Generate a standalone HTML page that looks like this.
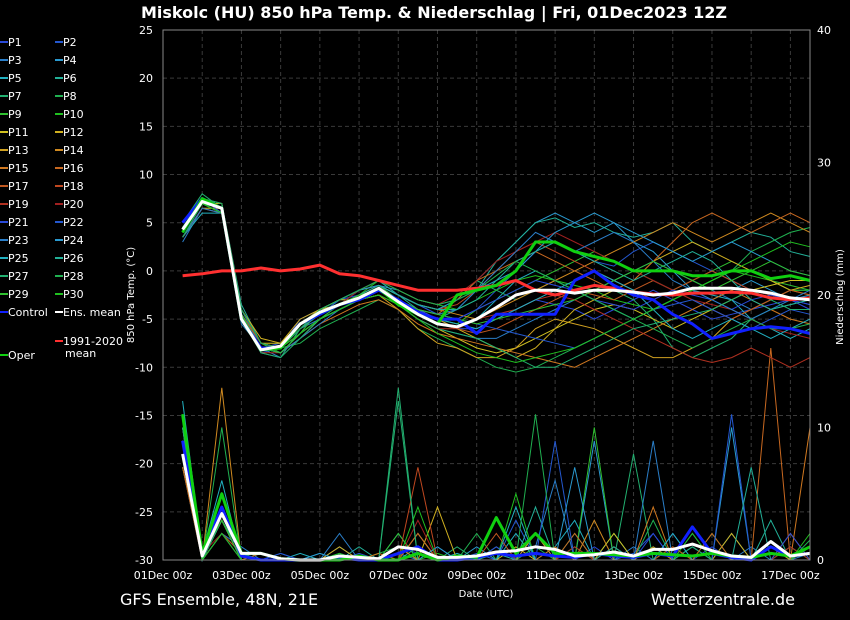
<!DOCTYPE html>
<html><head><meta charset="utf-8">
<style>
html,body{margin:0;padding:0;background:#000;}
svg{display:block;font-family:"DejaVu Sans","Liberation Sans",sans-serif;}
</style></head>
<body>
<svg id="chart" width="850" height="620" viewBox="0 0 850 620">
<rect x="0" y="0" width="850" height="620" fill="#000"/>
<text x="434" y="18" fill="#fff" font-size="16" font-weight="bold" text-anchor="middle">Miskolc  (HU)  850 hPa Temp. &amp; Niederschlag | Fri, 01Dec2023 12Z</text>
<text x="120" y="605" fill="#fff" font-size="16">GFS Ensemble, 48N, 21E</text>
<text x="795" y="605" fill="#fff" font-size="16" text-anchor="end">Wetterzentrale.de</text>
<g id="grid"></g>
<g id="precip"></g>
<g id="temps"></g>
<g id="specials"></g>
<g id="axes"></g>
<g id="legend"></g>
</svg>
<script>
const days = [0.5,1,1.5,2,2.5,3,3.5,4,4.5,5,5.5,6,6.5,7,7.5,8,8.5,9,9.5,10,10.5,11,11.5,12,12.5,13,13.5,14,14.5,15,15.5,16,16.5];
const xTickLabels = ["01Dec 00z","03Dec 00z","05Dec 00z","07Dec 00z","09Dec 00z","11Dec 00z","13Dec 00z","15Dec 00z","17Dec 00z"];
const yTicks = [25,20,15,10,5,0,-5,-10,-15,-20,-25,-30];
const y2Ticks = [0,10,20,30,40];
const memberColors = ["#2a4ad8","#2458d0","#2a7ec8","#2a9ad0","#22b0c0","#22b098","#22b070","#20b050","#30c030","#20c020","#d0c020","#d0b020","#d0a020","#d08a20","#d07820","#c86820","#c05820","#c04820","#b03020","#a02020"];
const memberTemps = [
[5,7.5,6,-5,-8.5,-8,-5,-4,-3,-2.5,-1.5,-3,-4,-5,-6,-6,-5,-4,-3,-3.5,-4,-5,-4,-3,-2,-3,-4,-5,-4.5,-4,-3.5,-3,-4],
[4,7,7,-4,-8,-7.5,-5.5,-4,-3.5,-2,-1,-2.5,-3.5,-4.5,-5,-4,-2,0,2,3,2,1,0.5,2,3,2,1,0,-1,-2,-2.5,-3,-3.5],
[3,6.5,6,-5.5,-8,-9,-6,-5,-4,-3,-2,-3.5,-5,-6,-6.5,-7,-7,-6,-5,-4,-3,-2,-1,0,1,0,-1,-2,-3,-4,-3,-2,-2],
[4.5,7,6.5,-4,-7.5,-8,-6.5,-5,-3.5,-2,-1.5,-2,-3,-3.5,-3,-1,1,3,5,6,5,4,5,3,2,0,-2,-3,-2,-1,-2,-3,-2.5],
[3.5,6,6,-5,-8,-8.5,-7,-5,-4,-3,-2,-3,-4.5,-5.5,-6,-5,-3,-1,0,-1,-2,-3,-4,-5,-4,-3,-2,-2.5,-3,-5,-6,-7,-6],
[4,7.5,7,-3.5,-7.5,-8,-6,-4.5,-3,-2,-1,-2.5,-4,-5,-4,-2,1,3,5,5.5,4.5,5,4,3.5,4,5,3,2,3,4,3.5,2,1.5],
[5,8,6.5,-5,-8.5,-9,-6,-4.5,-3.5,-2.5,-1.5,-2.5,-3.5,-4,-3,-1,-2,-3,-2,-1,-2,-3,-2,-3,-5,-8,-9,-8,-7,-5,-4,-3.5,-3],
[4,7,6,-4.5,-8,-8,-7.5,-6,-5,-4,-3,-4,-6,-7,-8,-9,-10,-10.5,-10,-9,-8,-7,-6,-5,-4,-3,-2,-1,0,2,3,4,4.5],
[4.5,7.5,6.5,-4,-7.5,-8.5,-6.5,-4,-3,-2,-1.5,-3,-4,-5,-5.5,-4,-3,-2,-1,0,1,2,1,0,-1,-2,-1,0,1,0,-1,-1.5,-2],
[4,7,6,-5,-8,-8,-6,-4.5,-3.5,-2.5,-1,-2,-3,-3.5,-4,-3,-2,-1,-0.5,-1,-1.5,-2,-3,-3.5,-4,-3,-2,-1,0,-0.5,-1,-2,-2],
[3.5,6.5,6.5,-4.5,-7.5,-7.5,-5.5,-4,-3,-3,-2.5,-3.5,-5,-6,-7,-8,-8.5,-8,-7,-6,-5,-4,-3.5,-4,-5,-6,-5,-4,-3,-2,-1.5,-1,-1],
[4.5,7,7,-4,-7,-7.5,-5,-4,-3.5,-3,-2,-3,-4,-5,-6,-7,-8,-9,-8,-6,-4,-3,-2,-1,1,2,3,2,1,0,-1,-2,-1.5],
[4,7.5,6,-5,-8,-8.5,-6.5,-5,-4,-3,-2.5,-4,-6,-7.5,-8,-9,-9,-8,-6,-5,-5.5,-6,-7,-8,-9,-9,-8,-7,-5,-4,-3,-2,-2.5],
[4,7,6.5,-4.5,-7.5,-8,-6,-4,-3,-2,-1.5,-2.5,-3.5,-4,-4.5,-5,-4,-3,-2,-1,0,1,2,3,4,5,4,3,4,5,6,5,4],
[3.5,6.5,6,-5,-8,-8.5,-7,-5.5,-4.5,-3.5,-3,-4,-5.5,-6.5,-7,-7.5,-8,-8.5,-9,-9.5,-10,-9,-8,-7,-6,-5,-4,-3,-2,-3,-4,-5,-5.5],
[4.5,7.5,7,-4,-7.5,-8,-6,-4.5,-3.5,-2.5,-2,-3,-4,-4.5,-3,-1,0,1,2,1,0,-1,-2,-1,1,3,5,6,5,4,5,6,5],
[4,7,6,-5,-8,-8,-6.5,-5,-4,-3,-2,-3,-4.5,-5.5,-6,-6.5,-6,-5,-4,-3,-2,-2.5,-3,-2,-1,-2,-3,-4,-5,-4,-3,-2,-2.5],
[4.5,7,6.5,-4.5,-7.5,-8,-6,-4.5,-3.5,-2.5,-1.5,-2.5,-3.5,-4,-3.5,-2,0,2,3,2,1,0,-1,-2,-3,-2,-1,0,-1,-2,-2.5,-3,-3],
[3.5,6.5,6,-5,-8.5,-8.5,-7,-5,-4,-3,-2.5,-3.5,-5,-6,-6,-5,-4.5,-4,-3,-2.5,-3,-4,-5,-6,-7,-8,-9,-9.5,-9,-8,-9,-10,-9],
[4,7,6.5,-4.5,-8,-8,-6,-4.5,-3.5,-2,-1,-2,-3,-3.5,-2.5,-1,1,2,3,4,3,2,1,0,-1,-2,-3,-3.5,-4,-5,-6,-6.5,-7],
[4.5,7.5,6,-5,-8,-8.5,-6.5,-5,-4,-3,-2,-3,-4,-5,-5,-4,-3,-2,-1,-1.5,-2,-3,-3.5,-4,-3,-2,-2.5,-3,-4,-3,-2.5,-3,-3.5],
[4,7,6.5,-4,-7.5,-8,-6,-4.5,-3,-2,-1.5,-2.5,-3.5,-4.5,-5,-5.5,-6,-6.5,-7,-7.5,-8,-7,-6,-5,-4,-3.5,-3,-4,-5,-6,-5,-4,-4.5],
[3.5,6.5,6,-5,-8,-8.5,-7,-5.5,-4,-3,-2,-3,-4,-4.5,-4,-2,0,2,4,3,2,3,4,3,1,-1,-2,-3,-4,-5,-4,-3,-2],
[4.5,7.5,7,-4.5,-8,-8,-6,-4,-3,-2,-1.5,-2.5,-3.5,-4,-3,-2,-1,0,2,4,5,6,5,4,3,2,1,2,3,2,1,0,-0.5],
[4,7,6,-5,-8,-8.5,-6.5,-5,-4,-3,-2,-3,-4.5,-5,-5.5,-6,-5,-4,-3,-2,-1,0,-1,-2,-4,-6,-7,-6,-5,-6,-7,-6,-5],
[4,7.5,6.5,-4.5,-8,-8,-6,-4.5,-3.5,-2.5,-1.5,-2.5,-3.5,-4,-4,-3,-1,1,2,3,2,1,0,-1,0,1,2,1,-1,-3,-4,-3.5,-3],
[3.5,7,6,-5,-8.5,-9,-7,-5,-4,-3,-2.5,-3.5,-5,-6,-6.5,-7,-8,-9,-10,-10,-9,-8,-7,-6,-5.5,-5,-4.5,-4,-3,-2,-3,-4,-4],
[4.5,7.5,7,-4,-7.5,-8,-6,-4,-3,-2,-1,-2,-3,-3.5,-3,-2,-0.5,1,0,-1,-2,-3,-4,-5,-6,-7,-8,-7,-6,-5,-6,-6,-5.5],
[4,7,6.5,-4.5,-8,-8.5,-6.5,-5,-3.5,-2.5,-2,-3,-4,-4.5,-5,-5.5,-5,-4.5,-4,-3.5,-3,-2,-1,0,1,0,-1,-2,-1,0,1,0,-0.5],
[4,7,6,-5,-8,-8,-6.5,-5,-4,-3,-2.5,-3.5,-5,-6.5,-7.5,-8.5,-9,-9.5,-9,-8.5,-8,-7,-6,-5,-4,-3,-2,-1,0,1,2,3,2.5]
];
const memberPrecip = [
[9,0,3,0.5,0.5,0,0,0,0.5,0,0,1,0.5,0,0,0,1,0,2,0,0,1,0,0,0,2,0,1,0,0,1,0,0],
[8,0.5,4,0,0,0.5,0,0,0,0.5,0,0,2,0,0,0.5,0,3,0,0,1,0,0,0.5,2,0,1,0,0,0,0,1,0],
[10,0,2,1,0,0,0,0,1,0,0,0.5,0,1,0,0,0,0,1,6,0,0,0,1,0,0,2,0,0,1,0,0,0.5],
[7,0,5,0.5,0,0,0,0.5,0,0,0,1,0,0,0,1,0,0,0,0,0,9,0,0,0,0,0,0,10,0,0,0,0],
[12,0.5,6,0,0,0,0.5,0,0,0,0,2,0,0,0.5,0,0,2,0,1,3,0,1,0,0,0,1,0,2,0,0,0,0],
[9,0,3,0,0.5,0,0,0,0,1,0,0,1,0,0,0,0.5,0,4,0,0,0,2,0,1,0,0,0,0,0,3,0,0],
[11,0,2,0.5,0,0,0,0,0.5,0,0,12,0,0,1,0,0,0,0,0,2,0,0,8,0,0,1,0,0,0,0,0,1],
[8,0.5,4,0,0,0,0,0,0,0,0.5,1,0,0,0,2,0,0,1,0,0,0,0,0,3,0,0,2,0,0,0,1,0],
[10,0,3,0,0,0,0,0,0,0,0,2,0,0,0,0,1,0,0,0,0,10,0,0,0,0,0,0,0,0,0,0,0],
[9,0,2,0.5,0,0,0,0,0.5,0,0,0,0,0.5,0,0,0,5,0,0,1,0,0,0,0,0,2,0,0,0,0,0,2],
[7,0.5,5,0,0,0,0,0,0,0,0,0,2,0,0,0,0,1,0,0,0,0,2,0,0,1,0,0,0,0,1,0,0],
[8,0,3,0,0,0,0,0,1,0,0,0,0,4,0,0,0,0,0,0,0,0,0,0,0,0,0,0,2,0,0,0,0],
[9,0.5,4,0.5,0,0,0,0,0,0,0,1,0,0,0,0,0,0,2,0,0,0,0,0,1,0,0,0,0,0,0,0,0],
[10,0,13,0,0,0,0,0,0,0,0,1,0,0,0,0,0,0,0,0,0,3,0,0,0,0,0,0,0,0,0,2,0],
[8,0,3,0,0.5,0,0,0,0,0,0.5,0,0,0,0,0,0,0,0,1,0,0,0,0,4,0,0,0,0,0,0,0,10],
[7,0,4,0,0,0,0,0,0,0,0,0,2,0,0,0,0,0,0,0,2,0,0,0,0,0,0,2,0,0,16,0,0],
[9,0.5,3,0,0,0,0,0,0,0,0,0,0,0,0,0,2,0,0,0,0,0,0,0,0,1,0,0,0,0,0,0,0],
[8,0,2,0.5,0,0,0,0,0,0,0,0,7,0,0,0,0,0,0,0,0,0,1,0,0,0,0,0,0,0,0,0,1],
[9,0,3,0,0,0,0,0,0,0,0,0,0,0,0,0,0,0,0,0,1,0,0,0,0,0,0,0,0,0,0,1,0],
[8,0.5,2,0,0,0,0,0,0,0,0,0,3,0,0,0,0,0,0,0,0,0,0,0,0,0,0,0,0,0,0,0,0],
[9,0,4,0,0,0,0,0,0,0,0,0,0,0,0,0,1,0,0,0,0,0,0,0,2,0,0,0,0,0,0,2,0],
[10,0.5,3,0.5,0,0.5,0,0,0,0,0,0,0,0,0,0,0,0,0,9,0,0,0,0,0,0,0,0,11,0,0,0,0],
[8,0,2,0,0,0,0,0,2,0,0,0,0,0,0,0,0,0,0,0,0,0,0,0,9,0,0,0,0,0,0,0,0],
[11,0,5,0,0,0,0,0.5,0,0,0,0,0,1,0,0,0,0,0,0,7,0,0,0,0,0,0,0,0,0,0,0,0],
[9,0,3,0,0,0,0,0,0,0,0,0,0,0,0,0,0,4,0,0,0,0,0,0,0,2,0,0,0,0,0,0,0],
[8,0.5,4,0,0,0,0,0,0,0,0,0,0,0,0,0,0,0,0,0,0,0,1,0,0,0,0,0,0,7,0,0,0],
[10,0,3,0.5,0,0,0,0,0,0,0,13,0,0,0,0,0,0,0,0,0,0,0,0,0,0,0,0,0,0,0,0,0],
[9,0,10,0,0,0,0,0,0,0,0,0,0,0,0,0,0,0,11,0,0,0,0,0,0,0,0,0,0,0,0,0,1.5],
[8,0.5,3,0,0,0,0,0,0,0,0,0,0,0,0,0,0,0,0,0,0,0,0,0,0,0,0,0,0,0,0,0,1],
[9,0,2,0,0,0,0,0,0,0,0,0,4,0,0,0,0,0,0,0,0,0,0,0,0,0,0,0,0,0,0,0,0]
];
const meanTemp = [4.3,7.2,6.5,-5,-8.2,-7.8,-5.5,-4.3,-3.5,-2.8,-1.8,-3.2,-4.5,-5.5,-5.8,-5,-3.8,-2.5,-2,-2,-2.3,-2,-2,-2.2,-2.5,-2.3,-1.8,-1.8,-1.8,-2,-2.3,-2.8,-3];
const climTemp = [-0.5,-0.3,0,0,0.3,0,0.2,0.6,-0.3,-0.5,-1,-1.5,-2,-2,-2,-1.8,-1.5,-1,-2,-2.5,-2,-1.5,-1.8,-2.2,-2.4,-2.5,-2.3,-2.3,-2.2,-2.3,-2.8,-3,-2.8];
const operTemp = [4,7.5,6.5,-5,-8.2,-8,-5.5,-4.3,-3.5,-2.8,-1.8,-3.5,-4.5,-5.5,-2.5,-2,-1.5,0,3,3,2,1.5,1,0,0,0,-0.5,-0.5,0,0,-0.8,-0.5,-1];
const controlTemp = [5,7.5,6.5,-5,-8,-8,-5.5,-4.5,-3.5,-3,-2,-3,-4.3,-5,-5,-6.5,-4.5,-4.5,-4.5,-4.5,-1,0,-1.5,-2.5,-3,-4.5,-5.5,-7,-6.5,-6,-5.8,-6,-6.5];
const meanPrecip = [8,0.3,3.5,0.5,0.5,0.1,0,0,0.3,0.2,0.1,1,0.8,0.2,0.2,0.3,0.6,0.7,1,0.8,0.3,0.4,0.6,0.3,0.8,0.8,1.2,0.7,0.3,0.2,1.4,0.3,0.5];
const operPrecip = [11,0.5,5,0.5,0.5,0.1,0,0,0,0.3,0,0,0.5,0,0.3,0.2,3.2,0.5,2,0.5,0.5,0.5,0.4,0.3,0.5,0.4,0.3,0.5,0.3,0.2,0.5,0.3,1];
const controlPrecip = [9,0.5,4,0.3,0,0,0,0,0.2,0,0,0.5,1,0,0,0.2,0.5,0.3,0.5,0.3,0.2,0.5,0.3,0.2,0.5,0.3,2.5,0.5,0.2,0,1,0.3,0.5];

const NS="http://www.w3.org/2000/svg";
const L=163,R=810,T=30,B=560;
function xs(d){return L+(R-L)*d/16.5;}
function ys(v){return T+(25-v)*(B-T)/55;}
function ys2(v){return B-v*(B-T)/40;}
function mk(tag,attrs,parent){const e=document.createElementNS(NS,tag);for(const k in attrs)e.setAttribute(k,attrs[k]);parent.appendChild(e);return e;}
const grid=document.getElementById('grid'),axes=document.getElementById('axes');
// grid
for(let d=1;d<=16;d++){
  const g=mk('line',{x1:xs(d),x2:xs(d),y1:T,y2:B,stroke:'#3a3a3a','stroke-dasharray':'4,3'},grid);
  
  
}
yTicks.forEach(v=>{
  const g=mk('line',{x1:L,x2:R,y1:ys(v),y2:ys(v),stroke:'#3a3a3a','stroke-dasharray':'4,3'},grid);
  
  
  const t=mk('text',{x:L-10,y:ys(v)+4,fill:'#fff','font-size':11,'text-anchor':'end'},axes);
  t.textContent=v;
  
  
});
y2Ticks.forEach(v=>{
  const t=mk('text',{x:R+7,y:ys2(v)+4,fill:'#fff','font-size':11},axes);
  t.textContent=v;
  
  
});
xTickLabels.forEach((s,i)=>{
  const t=mk('text',{x:xs(i*2),y:579,fill:'#fff','font-size':11,'text-anchor':'middle'},axes);
  t.textContent=s;
  
  
});
const fr=mk('rect',{x:L,y:T,width:R-L,height:B-T,fill:'none',stroke:'#888'},axes);


const xt=mk('text',{x:486,y:597,fill:'#fff','font-size':10,'text-anchor':'middle'},axes);
xt.textContent='Date (UTC)';


const yt=mk('text',{x:0,y:0,fill:'#fff','font-size':10,'text-anchor':'middle',transform:'translate(134,295) rotate(-90)'},axes);
yt.textContent='850 hPa Temp. (°C)';


const y2t=mk('text',{x:0,y:0,fill:'#fff','font-size':10,'text-anchor':'middle',transform:'translate(843,297) rotate(-90)'},axes);
y2t.textContent='Niederschlag (mm)';



function pathT(arr){return arr.map((v,i)=>(i?'L':'M')+xs(days[i]).toFixed(1)+','+ys(v).toFixed(1)).join('');}
function pathP(arr){return arr.map((v,i)=>(i?'L':'M')+xs(days[i]).toFixed(1)+','+ys2(v).toFixed(1)).join('');}
const pg=document.getElementById('precip'),tg=document.getElementById('temps'),sg=document.getElementById('specials');
memberPrecip.forEach((a,i)=>{
  const p=mk('path',{d:pathP(a),fill:'none',stroke:memberColors[i%20],'stroke-width':1},pg);
  
  
});
memberTemps.forEach((a,i)=>{
  const p=mk('path',{d:pathT(a),fill:'none',stroke:memberColors[i%20],'stroke-width':1},tg);
  
  
});
const specials=[
 [climTemp,'T','#ff3030','clim-mean-line'],
 [controlPrecip,'P','#1020ff','control-precip-line'],
 [operPrecip,'P','#10d010','oper-precip-line'],
 [meanPrecip,'P','#ffffff','mean-precip-line'],
 [controlTemp,'T','#1020ff','control-temp-line'],
 [operTemp,'T','#10d010','oper-temp-line'],
 [meanTemp,'T','#ffffff','mean-temp-line']
];
specials.forEach(s=>{
  const p=mk('path',{d:s[1]==='T'?pathT(s[0]):pathP(s[0]),fill:'none',stroke:s[2],'stroke-width':3,'stroke-linejoin':'round'},sg);
  
  
});
// legend
const lg=document.getElementById('legend');
function legendItem(x,y,color,label,name){
  const l=mk('line',{x1:x,x2:x+8,y1:y,y2:y,stroke:color,'stroke-width':2},lg);
  
  
  const t=mk('text',{x:x+8,y:y+4,fill:'#fff','font-size':11},lg);
  t.textContent=label;
  
  
}
for(let i=0;i<30;i++){
  const col=i%2, row=Math.floor(i/2);
  legendItem(col?55:0,42+row*18,memberColors[i%20],'P'+(i+1),'legend-entry-p'+(i+1));
}
legendItem(0,312,'#1020ff','Control','legend-entry-control');
legendItem(55,312,'#ffffff','Ens. mean','legend-entry-mean');
legendItem(0,355,'#10d010','Oper','legend-entry-oper');
legendItem(55,341,'#ff3030','1991-2020','legend-entry-clim');
const cm=mk('text',{x:65,y:357,fill:'#fff','font-size':11},lg);
cm.textContent='mean';


</script>
</body></html>
